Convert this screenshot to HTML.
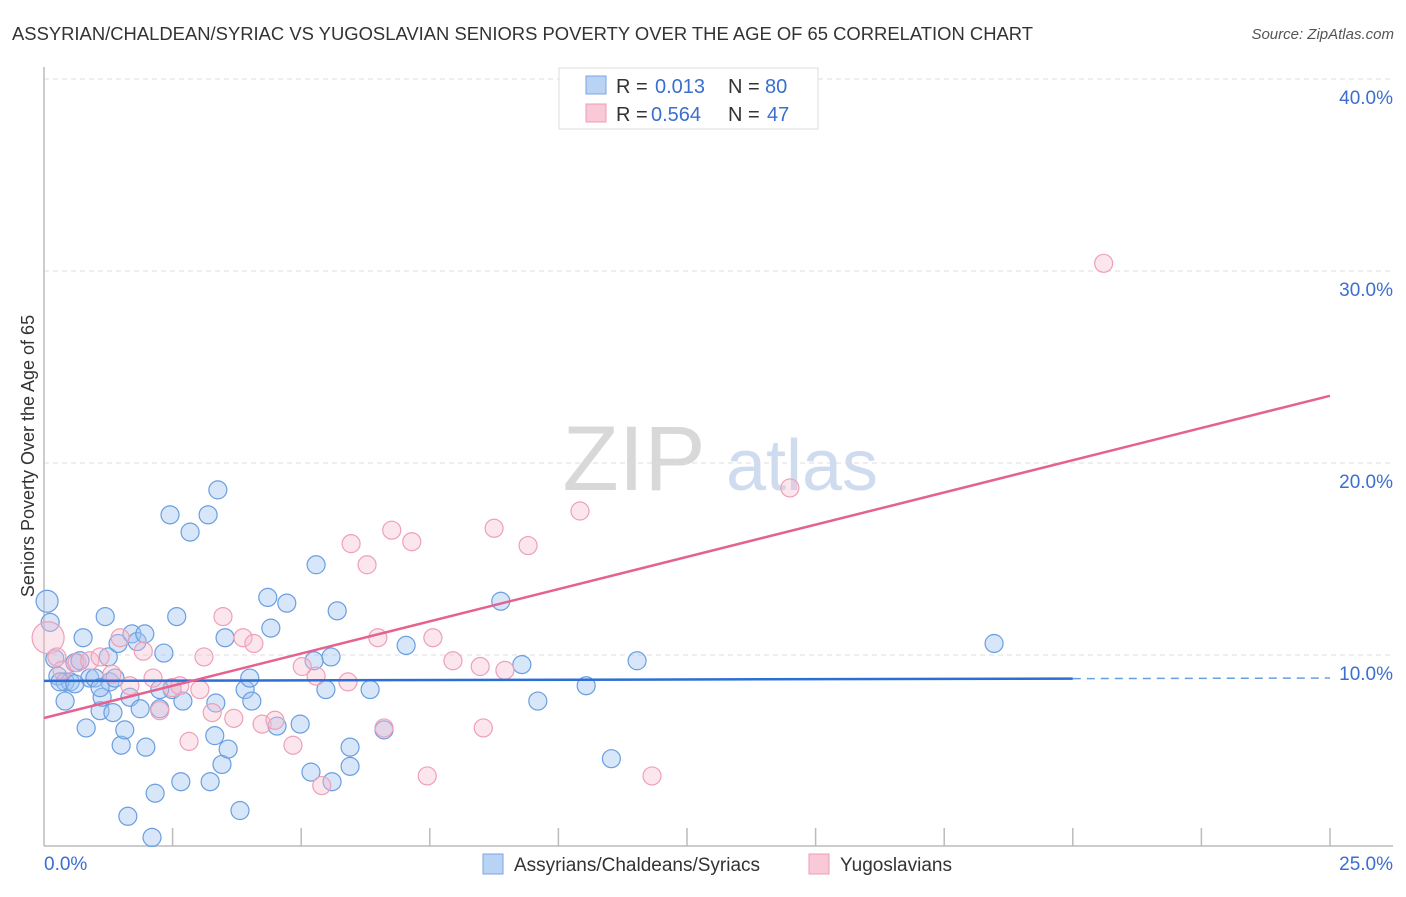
<!DOCTYPE html>
<html><head><meta charset="utf-8">
<style>
body{margin:0;background:#fff;font-family:"Liberation Sans",sans-serif;}
svg text{font-family:"Liberation Sans",sans-serif;}
</style></head>
<body>
<svg id="chart" width="1406" height="892" viewBox="0 0 1406 892" xmlns="http://www.w3.org/2000/svg">
<text x="12" y="40" font-size="18" fill="#333" textLength="1021" lengthAdjust="spacingAndGlyphs">ASSYRIAN/CHALDEAN/SYRIAC VS YUGOSLAVIAN SENIORS POVERTY OVER THE AGE OF 65 CORRELATION CHART</text>
<text x="1394" y="39" font-size="15" fill="#555" text-anchor="end" font-style="italic">Source: ZipAtlas.com</text>
<g>
<text x="634" y="490" font-size="92" fill="#d8d8d8" text-anchor="middle" font-family="Liberation Serif,serif">ZIP</text>
<text x="802" y="490" font-size="72" fill="#cfdcf0" text-anchor="middle">atlas</text>
</g>
<g id="grid"></g>
<g id="axes"></g>
<g id="points"></g>
<g id="lines"></g>
<g>
<rect x="559" y="68" width="259" height="61" fill="#fff" stroke="#ddd"/>
<rect x="586" y="76" width="20" height="18" fill="#b9d3f5" stroke="#7aa6e0"/>
<text x="616" y="93" font-size="20" fill="#333">R = </text><text x="655" y="93" font-size="20" fill="#3a6fd0">0.013</text>
<text x="728" y="93" font-size="20" fill="#333">N = </text><text x="765" y="93" font-size="20" fill="#3a6fd0">80</text>
<rect x="586" y="104" width="20" height="18" fill="#f9c9d7" stroke="#ec9db5"/>
<text x="616" y="121" font-size="20" fill="#333">R = </text><text x="651" y="121" font-size="20" fill="#3a6fd0">0.564</text>
<text x="728" y="121" font-size="20" fill="#333">N = </text><text x="767" y="121" font-size="20" fill="#3a6fd0">47</text>
</g>
<g>
<rect x="483" y="854" width="20" height="20" fill="#b9d3f5" stroke="#7aa6e0"/>
<text x="514" y="871" font-size="19" fill="#333">Assyrians/Chaldeans/Syriacs</text>
<rect x="809" y="854" width="20" height="20" fill="#f9c9d7" stroke="#ec9db5"/>
<text x="840" y="871" font-size="19" fill="#333">Yugoslavians</text>
</g>
<text transform="translate(34,456) rotate(-90)" font-size="18" fill="#333" text-anchor="middle">Seniors Poverty Over the Age of 65</text>
</svg>
<script>
const yTicks=[10,20,30,40];
const yTickLabels=["10.0%","20.0%","30.0%","40.0%"];
const xTickLabels=["0.0%","25.0%"];
const blueX=[0.06,0.12,0.21,0.27,0.41,0.51,0.6,0.7,0.76,0.82,0.89,0.99,1.09,1.13,1.19,1.25,1.28,1.34,1.38,1.44,1.5,1.57,1.67,1.71,1.81,1.87,1.96,1.98,2.16,2.25,2.33,2.45,2.49,2.58,2.66,2.7,2.84,3.19,3.23,3.32,3.38,3.46,3.58,3.81,3.91,4.04,1.63,2.1,4.35,4.41,4.53,4.72,4.98,5.19,5.25,5.29,5.48,5.58,5.6,5.7,5.95,5.95,6.34,6.61,7.04,8.88,9.29,9.6,10.54,11.03,11.53,18.47,3.34,1.09,0.31,2.25,4.0,0.6,0.41,3.52];
const blueY=[12.8,11.7,9.8,8.9,8.6,8.6,9.6,9.7,10.9,6.2,8.8,8.8,7.1,7.8,12.0,9.9,8.6,7.0,8.8,10.6,5.3,6.1,7.8,11.1,10.7,7.2,11.1,5.2,2.8,7.2,10.1,17.3,8.2,12.0,3.4,7.6,16.4,17.3,3.4,5.8,18.6,4.3,5.1,1.9,8.2,7.6,1.6,0.5,13.0,11.4,6.3,12.7,6.4,3.9,9.7,14.7,8.2,9.9,3.4,12.3,5.2,4.2,8.2,6.1,10.5,12.8,9.5,7.6,8.4,4.6,9.7,10.6,7.5,8.3,8.6,8.2,8.8,8.5,7.6,10.9];
const pinkX=[0.08,0.25,0.35,0.64,0.89,1.09,1.32,1.48,1.67,1.93,2.12,2.25,2.49,2.64,2.82,3.11,3.27,3.48,3.69,3.87,4.08,4.24,4.49,4.84,5.02,5.29,5.4,5.91,5.97,6.28,6.49,6.61,6.76,7.15,7.45,7.56,7.95,8.48,8.54,8.75,8.96,9.41,10.42,11.82,14.5,20.6,3.03];
const pinkY=[10.9,9.9,9.2,9.6,9.7,9.9,9.0,10.9,8.4,10.2,8.8,7.1,8.3,8.4,5.5,9.9,7.0,12.0,6.7,10.9,10.6,6.4,6.6,5.3,9.4,8.9,3.2,8.6,15.8,14.7,10.9,6.2,16.5,15.9,3.7,10.9,9.7,9.4,6.2,16.6,9.2,15.7,17.5,3.7,18.7,30.4,8.2];
const blueFit=[8.65,8.8];
const pinkFit=[6.72,23.5];
const X=v=>44+v/25*1286, Y=v=>847-v*19.2;
const NS="http://www.w3.org/2000/svg";
function mk(t,a,p){const e=document.createElementNS(NS,t);for(const k in a)e.setAttribute(k,a[k]);p.appendChild(e);return e;}
const grid=document.getElementById('grid'),axes=document.getElementById('axes'),pts=document.getElementById('points'),lines=document.getElementById('lines');
yTicks.forEach((t,i)=>{
 const g=mk('line',{x1:44,x2:1393,y1:Y(t),y2:Y(t),stroke:'#ddd','stroke-dasharray':'5,4'},grid);
 
 
 const l=mk('text',{x:1393,y:Y(t)+25,'font-size':19,fill:'#3a6fd0','text-anchor':'end'},axes);
 l.textContent=yTickLabels[i];
 
 
});
const ax=mk('line',{x1:44,x2:44,y1:67,y2:846,stroke:'#bbb','stroke-width':1.5},axes);


const bx=mk('line',{x1:44,x2:1393,y1:846,y2:846,stroke:'#bbb','stroke-width':1.5},axes);


for(let i=1;i<=10;i++){
 const t=mk('line',{x1:X(i*2.5),x2:X(i*2.5),y1:828,y2:846,stroke:'#bbb','stroke-width':1.5},axes);
 
 
}
[[0,44,'start'],[25,1393,'end']].forEach((d,i)=>{
 const l=mk('text',{x:d[1],y:870,'font-size':19,fill:'#3a6fd0','text-anchor':d[2]},axes);
 l.textContent=xTickLabels[i];
 
 
});
blueX.forEach((v,i)=>{
 const c=mk('circle',{cx:X(v),cy:Y(blueY[i]),r:i==0?11:9,fill:'rgba(160,195,240,0.42)',stroke:'#6a9ee0','stroke-width':1.2},pts);
 
 
});
pinkX.forEach((v,i)=>{
 const c=mk('circle',{cx:X(v),cy:Y(pinkY[i]),r:i==0?16:9,fill:'rgba(248,190,208,0.38)',stroke:'#eea0b8','stroke-width':1.2},pts);
 
 
});
const bl=v=>blueFit[0]+(blueFit[1]-blueFit[0])*v/25;
const b1=mk('line',{x1:X(0),y1:Y(bl(0)),x2:X(20),y2:Y(bl(20)),stroke:'#2b6fd6','stroke-width':2.5},lines);


const b2=mk('line',{x1:X(20),y1:Y(bl(20)),x2:X(25),y2:Y(bl(25)),stroke:'#6a9ee0','stroke-width':1.5,'stroke-dasharray':'8,6'},lines);


const p1=mk('line',{x1:X(0),y1:Y(pinkFit[0]),x2:X(25),y2:Y(pinkFit[1]),stroke:'#e4628f','stroke-width':2.5},lines);


</script>
</body></html>
